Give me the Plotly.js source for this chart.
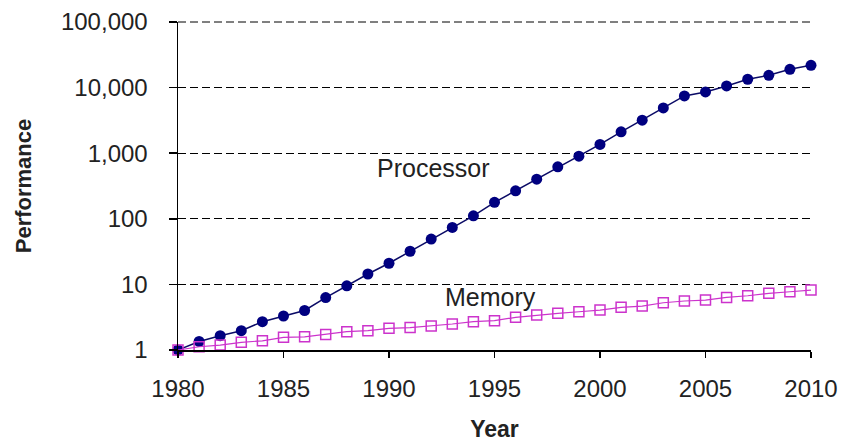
<!DOCTYPE html>
<html>
<head>
<meta charset="utf-8">
<script src="https://cdn.plot.ly/plotly-3.0.1.min.js"></script>
<style>html,body{margin:0;padding:0;background:#fff;}#chart{width:841px;height:442px;}</style>
</head>
<body>
<div id="chart"></div>
<script>
const years = [1980,1981,1982,1983,1984,1985,1986,1987,1988,1989,1990,1991,1992,1993,1994,1995,1996,1997,1998,1999,2000,2001,2002,2003,2004,2005,2006,2007,2008,2009,2010];
const processor = [1,1.35,1.65,1.97,2.7,3.3,4.0,6.3,9.5,14.4,21,32,49,74,111,178,267,402,619,901,1360,2115,3185,4900,7460,8590,10600,13400,15400,19000,21900];
const memory = [1,1.12,1.19,1.31,1.38,1.56,1.59,1.73,1.9,1.97,2.14,2.2,2.32,2.49,2.7,2.8,3.15,3.41,3.62,3.83,4.06,4.47,4.68,5.25,5.58,5.77,6.33,6.71,7.3,7.73,8.2];
const yTickVals = [1,10,100,1000,10000,100000];
const yTickText = ["1","10","100","1,000","10,000","100,000"];
const xTickVals = [1980,1985,1990,1995,2000,2005,2010];
const labels = [
  {text:"Processor", x:1992.1, y:600},
  {text:"Memory", x:1994.8, y:6.4}
];

const traces = [
  {x:years, y:processor, type:"scatter", mode:"lines+markers", name:"Processor",
   line:{color:"#0b0b66", width:1.5},
   marker:{symbol:"circle", size:11, color:"#000080"}, cliponaxis:false},
  {x:years, y:memory, type:"scatter", mode:"lines+markers", name:"Memory",
   line:{color:"#cc33cc", width:1.2},
   marker:{symbol:"square-open", size:10, color:"#cc33cc", line:{width:1.5}}, cliponaxis:false}
];

const gridDash = "8px,4px";

const layout = {
  width:841, height:442,
  margin:{l:178, r:30, t:22, b:92},
  paper_bgcolor:"#fff", plot_bgcolor:"#fff",
  showlegend:false,
  font:{family:"Liberation Sans, Arial, sans-serif", color:"#222"},
  xaxis:{
    range:[1980,2010], tickvals:xTickVals, ticktext:xTickVals.map(String),
    showgrid:false, zeroline:false,
    showline:true, linecolor:"#000", linewidth:1.5,
    ticks:"outside", ticklen:6, tickcolor:"#000", tickwidth:1.5,
    tickfont:{size:24, color:"#222"}, ticklabelstandoff:11,
    title:{text:"<b>Year</b>", font:{size:23, color:"#222"}, standoff:21}
  },
  yaxis:{
    type:"log", range:[0,5], tickvals:yTickVals, ticktext:yTickText,
    showgrid:true, gridcolor:"#000", gridwidth:1, griddash:gridDash,
    zeroline:false,
    showline:true, linecolor:"#000", linewidth:1.5,
    ticks:"outside", ticklen:8, tickcolor:"#000", tickwidth:1.5,
    tickfont:{size:24, color:"#222"}, ticklabelstandoff:16,
    title:{text:"<b>Performance</b>", font:{size:22, color:"#222"}, standoff:23}
  },
  shapes:[{type:"line", xref:"paper", yref:"paper", x0:0, x1:1, y0:1, y1:1,
           line:{color:"#000", width:1, dash:gridDash}, layer:"below"}],
  annotations: labels.map(l => ({x:l.x, y:Math.log10(l.y), xref:"x", yref:"y", text:l.text, showarrow:false,
     font:{size:25, color:"#222"}, xanchor:"center", yanchor:"middle"}))
};

Plotly.newPlot("chart", traces, layout, {staticPlot:true, displayModeBar:false});
</script>
</body>
</html>
